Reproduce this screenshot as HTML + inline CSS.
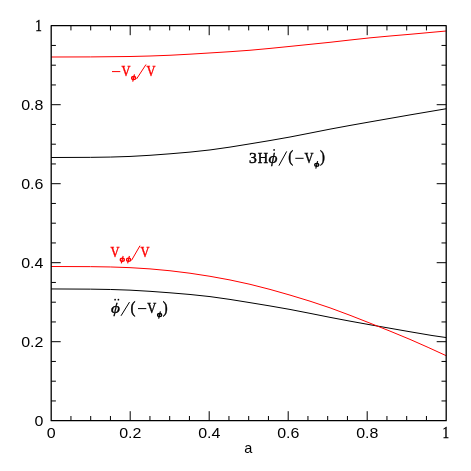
<!DOCTYPE html>
<html><head><meta charset="utf-8"><title>plot</title>
<style>
html,body{margin:0;padding:0;background:#fff;overflow:hidden;}
svg{display:block;}
text{font-family:"Liberation Serif",serif;}
.s{font-family:"Liberation Sans",sans-serif;}
</style></head><body>
<svg width="471" height="471" viewBox="0 0 471 471" style="will-change:transform">
<rect x="0" y="0" width="471" height="471" fill="#fff"/>
<g fill="none" stroke-width="1.0" stroke-linejoin="round">
<path d="M51.10,157.500C64.27,157.500 77.43,157.466 90.60,157.350C103.73,157.234 116.87,157.037 130.00,156.450C143.33,155.854 156.67,154.858 170.00,153.800C183.33,152.742 196.67,151.624 210.00,149.950C223.33,148.276 236.67,146.048 250.00,143.850C263.33,141.652 276.67,139.484 290.00,137.000C303.33,134.516 316.67,131.718 330.00,129.150C343.33,126.582 356.67,124.246 370.00,121.900C383.33,119.554 396.67,117.199 410.00,114.900C422.07,112.819 434.13,110.785 446.20,108.750" stroke="#000"/>
<path d="M51.10,288.950C64.27,288.950 77.43,289.001 90.60,289.150C103.73,289.298 116.87,289.543 130.00,290.150C143.33,290.766 156.67,291.756 170.00,292.800C183.33,293.844 196.67,294.943 210.00,296.600C223.33,298.257 236.67,300.471 250.00,302.650C263.33,304.829 276.67,306.974 290.00,309.450C303.33,311.926 316.67,314.733 330.00,317.350C343.33,319.967 356.67,322.393 370.00,324.750C383.33,327.107 396.67,329.393 410.00,331.750C417.33,333.046 424.67,334.364 432.00,335.500C436.73,336.234 441.47,336.892 446.20,337.550" stroke="#000"/>
<path d="M51.10,57.000C64.27,57.000 77.43,56.984 90.60,56.920C103.73,56.856 116.87,56.744 130.00,56.500C143.33,56.253 156.67,55.870 170.00,55.250C183.33,54.630 196.67,53.771 210.00,52.950C223.33,52.129 236.67,51.345 250.00,50.250C263.33,49.155 276.67,47.748 290.00,46.400C303.33,45.052 316.67,43.764 330.00,42.300C343.33,40.836 356.67,39.196 370.00,37.850C383.33,36.504 396.67,35.454 410.00,34.300C422.07,33.256 434.13,32.128 446.20,31.000" stroke="#f00"/>
<path d="M51.10,266.500C64.27,266.500 77.43,266.518 90.60,266.650C103.73,266.782 116.87,267.027 130.00,267.650C143.33,268.283 156.67,269.305 170.00,270.750C183.33,272.195 196.67,274.064 210.00,276.300C223.33,278.536 236.67,281.139 250.00,284.300C263.33,287.461 276.67,291.181 290.00,295.100C303.33,299.019 316.67,303.137 330.00,307.850C343.33,312.563 356.67,317.871 370.00,323.150C383.33,328.429 396.67,333.680 410.00,339.400C422.07,344.577 434.13,350.138 446.20,355.700" stroke="#f00"/>
</g>
<path d="M70.95,420.70v-4.7M70.95,25.70v4.7M51.20,400.95h4.7M446.20,400.95h-4.7M90.70,420.70v-4.7M90.70,25.70v4.7M51.20,381.20h4.7M446.20,381.20h-4.7M110.45,420.70v-4.7M110.45,25.70v4.7M51.20,361.45h4.7M446.20,361.45h-4.7M130.20,420.70v-9.5M130.20,25.70v9.5M51.20,341.70h9.5M446.20,341.70h-9.5M149.95,420.70v-4.7M149.95,25.70v4.7M51.20,321.95h4.7M446.20,321.95h-4.7M169.70,420.70v-4.7M169.70,25.70v4.7M51.20,302.20h4.7M446.20,302.20h-4.7M189.45,420.70v-4.7M189.45,25.70v4.7M51.20,282.45h4.7M446.20,282.45h-4.7M209.20,420.70v-9.5M209.20,25.70v9.5M51.20,262.70h9.5M446.20,262.70h-9.5M228.95,420.70v-4.7M228.95,25.70v4.7M51.20,242.95h4.7M446.20,242.95h-4.7M248.70,420.70v-4.7M248.70,25.70v4.7M51.20,223.20h4.7M446.20,223.20h-4.7M268.45,420.70v-4.7M268.45,25.70v4.7M51.20,203.45h4.7M446.20,203.45h-4.7M288.20,420.70v-9.5M288.20,25.70v9.5M51.20,183.70h9.5M446.20,183.70h-9.5M307.95,420.70v-4.7M307.95,25.70v4.7M51.20,163.95h4.7M446.20,163.95h-4.7M327.70,420.70v-4.7M327.70,25.70v4.7M51.20,144.20h4.7M446.20,144.20h-4.7M347.45,420.70v-4.7M347.45,25.70v4.7M51.20,124.45h4.7M446.20,124.45h-4.7M367.20,420.70v-9.5M367.20,25.70v9.5M51.20,104.70h9.5M446.20,104.70h-9.5M386.95,420.70v-4.7M386.95,25.70v4.7M51.20,84.95h4.7M446.20,84.95h-4.7M406.70,420.70v-4.7M406.70,25.70v4.7M51.20,65.20h4.7M446.20,65.20h-4.7M426.45,420.70v-4.7M426.45,25.70v4.7M51.20,45.45h4.7M446.20,45.45h-4.7" fill="none" stroke="#000" stroke-width="1.0"/>
<rect x="51.2" y="25.7" width="395.00" height="395.00" fill="none" stroke="#000" stroke-width="1.3" stroke-linejoin="round"/>
<text class="s" transform="translate(51.30,438.40) scale(1.11,1)" font-size="14.4" text-anchor="middle">0</text>
<text class="s" transform="translate(43.40,425.90) scale(1.11,1)" font-size="14.4" text-anchor="end">0</text>
<text class="s" transform="translate(130.30,438.40) scale(1.11,1)" font-size="14.4" text-anchor="middle">0.2</text>
<text class="s" transform="translate(43.40,346.90) scale(1.11,1)" font-size="14.4" text-anchor="end">0.2</text>
<text class="s" transform="translate(209.30,438.40) scale(1.11,1)" font-size="14.4" text-anchor="middle">0.4</text>
<text class="s" transform="translate(43.40,267.90) scale(1.11,1)" font-size="14.4" text-anchor="end">0.4</text>
<text class="s" transform="translate(288.30,438.40) scale(1.11,1)" font-size="14.4" text-anchor="middle">0.6</text>
<text class="s" transform="translate(43.40,188.90) scale(1.11,1)" font-size="14.4" text-anchor="end">0.6</text>
<text class="s" transform="translate(367.30,438.40) scale(1.11,1)" font-size="14.4" text-anchor="middle">0.8</text>
<text class="s" transform="translate(43.40,109.90) scale(1.11,1)" font-size="14.4" text-anchor="end">0.8</text>
<text transform="translate(445.80,438.40) scale(0.84,1)" font-size="15.7" text-anchor="middle" stroke="#000" stroke-width="0.4">1</text>
<text transform="translate(41.90,30.70) scale(0.84,1)" font-size="15.7" text-anchor="end" stroke="#000" stroke-width="0.4">1</text>
<text class="s" x="248.4" y="452.6" font-size="14.5" text-anchor="middle">a</text>
<g fill="#f00" color="#f00">
<path d="M112.00,71.60H120.30" stroke="currentColor" stroke-width="1.0" fill="none"/>
<text transform="translate(121.50,75.80) scale(0.84,1)" font-size="14.8" stroke="currentColor" stroke-width="0.45" >V</text>
<g fill="none" stroke="currentColor"><ellipse cx="133.65" cy="78.00" rx="2.0" ry="1.55" stroke-width="1.35"/><path d="M134.50,74.30L132.70,81.70" stroke-width="1.15"/></g>
<path d="M136.60,78.90L146.00,64.50" stroke="currentColor" stroke-width="1.0" fill="none"/>
<text transform="translate(146.60,75.80) scale(0.84,1)" font-size="14.8" stroke="currentColor" stroke-width="0.45" >V</text>
<text transform="translate(110.60,257.20) scale(0.84,1)" font-size="14.8" stroke="currentColor" stroke-width="0.45" >V</text>
<g fill="none" stroke="currentColor"><ellipse cx="122.30" cy="259.70" rx="2.0" ry="1.55" stroke-width="1.35"/><path d="M123.15,256.00L121.35,263.40" stroke-width="1.15"/></g>
<g fill="none" stroke="currentColor"><ellipse cx="128.60" cy="259.70" rx="2.0" ry="1.55" stroke-width="1.35"/><path d="M129.45,256.00L127.65,263.40" stroke-width="1.15"/></g>
<path d="M131.50,260.40L140.00,245.70" stroke="currentColor" stroke-width="1.0" fill="none"/>
<text transform="translate(140.60,257.20) scale(0.84,1)" font-size="14.8" stroke="currentColor" stroke-width="0.45" >V</text>
</g>
<g fill="#000" color="#000">
<text transform="translate(249.00,162.60) scale(1.06,1)" font-size="14.8" stroke="currentColor" stroke-width="0.45" >3</text>
<text transform="translate(257.70,162.60) scale(0.97,1)" font-size="14.8" stroke="currentColor" stroke-width="0.45" >H</text>
<text transform="translate(268.40,162.60) scale(1.17,1)" font-size="14.8" stroke="currentColor" stroke-width="0.35" font-style="italic">&#x3d5;</text>
<circle cx="274.10" cy="149.90" r="0.85"/>
<path d="M278.90,165.70L286.70,151.40" stroke="currentColor" stroke-width="1.0" fill="none"/>
<text transform="translate(288.20,162.30) scale(0.9,1)" font-size="16.4" stroke="currentColor" stroke-width="0.45" >(</text>
<path d="M295.30,158.30H303.60" stroke="currentColor" stroke-width="1.0" fill="none"/>
<text transform="translate(304.50,162.60) scale(0.84,1)" font-size="14.8" stroke="currentColor" stroke-width="0.45" >V</text>
<g fill="none" stroke="currentColor"><ellipse cx="316.75" cy="164.85" rx="2.0" ry="1.55" stroke-width="1.35"/><path d="M317.60,161.15L315.80,168.55" stroke-width="1.15"/></g>
<text transform="translate(320.10,162.30) scale(0.9,1)" font-size="16.4" stroke="currentColor" stroke-width="0.45" >)</text>
<text transform="translate(111.00,312.80) scale(1.17,1)" font-size="14.8" stroke="currentColor" stroke-width="0.35" font-style="italic">&#x3d5;</text>
<circle cx="115.10" cy="299.70" r="0.85"/>
<circle cx="118.40" cy="299.70" r="0.85"/>
<path d="M121.00,315.80L129.50,302.10" stroke="currentColor" stroke-width="1.0" fill="none"/>
<text transform="translate(130.60,312.50) scale(0.9,1)" font-size="16.4" stroke="currentColor" stroke-width="0.45" >(</text>
<path d="M138.00,308.60H146.30" stroke="currentColor" stroke-width="1.0" fill="none"/>
<text transform="translate(147.20,312.80) scale(0.84,1)" font-size="14.8" stroke="currentColor" stroke-width="0.45" >V</text>
<g fill="none" stroke="currentColor"><ellipse cx="159.60" cy="315.00" rx="2.0" ry="1.55" stroke-width="1.35"/><path d="M160.45,311.30L158.65,318.70" stroke-width="1.15"/></g>
<text transform="translate(162.80,312.50) scale(0.9,1)" font-size="16.4" stroke="currentColor" stroke-width="0.45" >)</text>
</g>
</svg>
</body></html>
